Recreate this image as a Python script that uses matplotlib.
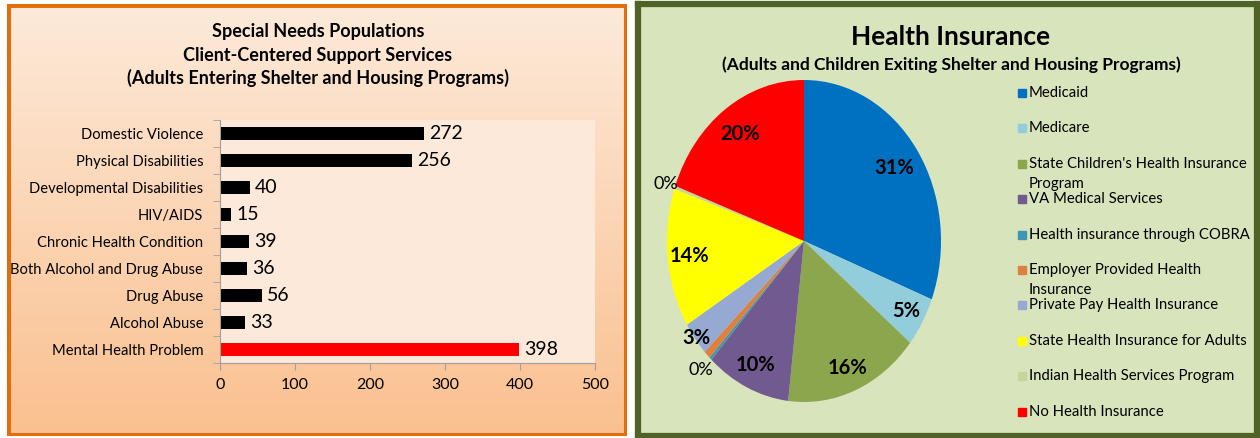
import matplotlib
matplotlib.use("Agg")
import matplotlib.pyplot as plt
import numpy as np
from matplotlib.patches import Rectangle

W, H = 1260, 438
FONT = ["Lato", "DejaVu Sans"]
plt.rcParams["font.family"] = FONT

# left panel data (bottom to top order as drawn)
needs = ["Mental Health Problem", "Alcohol Abuse", "Drug Abuse",
         "Both Alcohol and Drug Abuse", "Chronic Health Condition",
         "HIV/AIDS", "Developmental Disabilities", "Physical Disabilities",
         "Domestic Violence"]
needs_counts = [398, 33, 56, 36, 39, 15, 40, 256, 272]
needs_colors = ["#FF0000"] + ["#000000"] * 8
x_ticks = [0, 100, 200, 300, 400, 500]

# right panel data
insurance = ["Medicaid", "Medicare",
             "State Children's Health Insurance\nProgram",
             "VA Medical Services", "Health insurance through COBRA",
             "Employer Provided Health\nInsurance",
             "Private Pay Health Insurance",
             "State Health Insurance for Adults",
             "Indian Health Services Program", "No Health Insurance"]
insurance_pct = [31, 5, 16, 10, 0.3, 0.8, 3.4, 14, 0.3, 19.5]
insurance_labels = ["31%", "5%", "16%", "10%", "0%", "", "3%", "14%", "0%", "20%"]
insurance_colors = ["#0070C0", "#92CDDC", "#8CA64E", "#705A90", "#3E97B0",
                    "#DD8040", "#95A9D2", "#FFFF00", "#C4D79B", "#FF0000"]


def box(x0, y0, x1, y1):
    """pixel box (top-left origin) -> figure rect"""
    return [x0 / W, 1 - y1 / H, (x1 - x0) / W, (y1 - y0) / H]


fig = plt.figure(figsize=(W / 100, H / 100), dpi=100, facecolor="white")

# ---- left panel background: orange frame + peach gradient
bg = fig.add_axes(box(7, 4, 627, 436))
grad = np.linspace(0, 1, 256)[:, None]
peach = np.array([[253, 234, 218], [250, 192, 143]]) / 255
img = peach[0] + (peach[1] - peach[0]) * grad[..., None]
bg.imshow(img, aspect="auto", extent=[0, 1, 0, 1], origin="upper")
bg.add_patch(Rectangle((0, 0), 1, 1, transform=bg.transAxes, fill=False,
                       ec="#E46C0A", lw=5))
bg.set_axis_off()

for i, line in enumerate(["Special Needs Populations",
                          "Client-Centered Support Services",
                          "(Adults Entering Shelter and Housing Programs)"]):
    fig.text(318 / W, 1 - (32 + 23 * i) / H, line, ha="center", va="center",
             fontsize=13, fontweight="bold")

ax = fig.add_axes(box(220, 120, 595, 363))
ax.set_facecolor("#FDE9D9")
y = np.arange(len(needs))
ax.barh(y, needs_counts, height=0.45, color=needs_colors)
for yi, v in zip(y, needs_counts):
    ax.text(v + 7, yi, str(v), va="center", ha="left", fontsize=14)
ax.set_xlim(0, 500)
ax.set_ylim(-0.5, len(needs) - 0.5)
ax.set_xticks(x_ticks)
ax.set_yticks(y)
ax.set_yticklabels(needs, fontsize=10.6)
ax.set_yticks(np.arange(-0.5, len(needs)), minor=True)
ax.tick_params(axis="y", which="major", length=0, pad=12)
ax.tick_params(axis="y", which="minor", length=5, color="#A0A0A0")
ax.tick_params(axis="x", length=5, color="#A0A0A0", labelsize=11.5, pad=6)
for s in ["top", "right"]:
    ax.spines[s].set_visible(False)
ax.spines["left"].set_color("#A0A0A0")
ax.spines["bottom"].set_color("#A0A0A0")

# ---- right panel: green frame
bg2 = fig.add_axes(box(638, 4, 1257, 436))
bg2.set_facecolor("#D8E4BC")
bg2.set_xticks([])
bg2.set_yticks([])
for s in bg2.spines.values():
    s.set_color("#4F6228")
    s.set_linewidth(4.5)

fig.text(951 / W, 1 - 37 / H, "Health Insurance", ha="center", va="center",
         fontsize=19, fontweight="bold")
fig.text(951 / W, 1 - 65 / H,
         "(Adults and Children Exiting Shelter and Housing Programs)",
         ha="center", va="center", fontsize=12.5, fontweight="bold")

pax = fig.add_axes(box(667, 80, 941, 402))
wedges, _ = pax.pie(insurance_pct, colors=insurance_colors, startangle=90,
                    counterclock=False, radius=1,
                    wedgeprops=dict(linewidth=0))
pax.set_aspect("auto")
pax.set_xlim(-1, 1)
pax.set_ylim(-1, 1)
pax.set_axis_off()

label_r = [0.8, 0.86, 0.85, 0.85, 1.1, 1.0, 0.99, 0.84, 1.07, 0.81]
for w, lab, r in zip(wedges, insurance_labels, label_r):
    if not lab:
        continue
    mid = np.deg2rad((w.theta1 + w.theta2) / 2)
    bold = lab != "0%"
    pax.text(r * np.cos(mid), r * np.sin(mid), lab, ha="center", va="center",
             fontsize=14.5 if bold else 13,
             fontweight="bold" if bold else "normal")

# legend, drawn as squares + text at even spacing
for i, (name, col) in enumerate(zip(insurance, insurance_colors)):
    yy = 93 + i * 35.4
    fig.patches.append(Rectangle((1018 / W, 1 - (yy + 4) / H), 8 / W, 8 / H,
                                 transform=fig.transFigure, color=col))
    for j, line in enumerate(name.split("\n")):
        fig.text(1029 / W, 1 - (yy + j * 20) / H, line, ha="left",
                 va="center", fontsize=10.7)

fig.savefig("out.png", dpi=100, facecolor="white")
